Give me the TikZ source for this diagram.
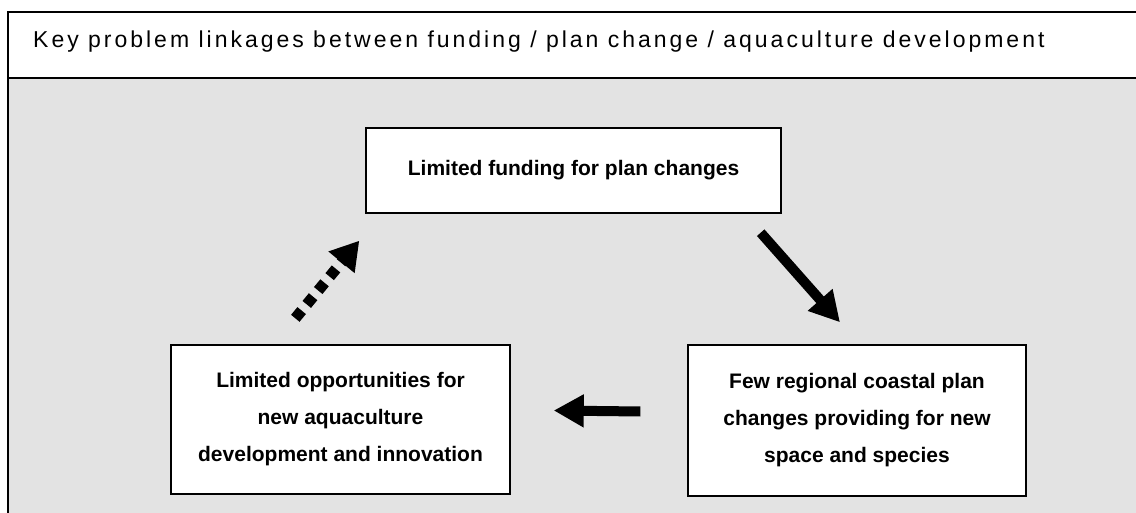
\documentclass[tikz,border=0pt]{standalone}
\usepackage{fontspec}
\setmainfont{Liberation Sans}
\newfontfamily\titlefont[LetterSpace=13]{Liberation Sans}
\usetikzlibrary{arrows.meta}
\definecolor{panel}{gray}{0.89}
\tikzset{
  frameline/.style={line width=1.4pt, black},
  box/.style={draw=black, line width=1.4pt, fill=white, align=center,
    font=\bfseries\fontsize{21}{37}\selectfont, inner sep=0pt},
  bigarrow/.style={line width=10pt, -{Triangle[length=30pt,width=31pt]}},
  dotarrow/.style={line width=11pt, dash pattern=on 10pt off 8pt,
    -{Triangle[length=28pt,width=32pt]}}
}
\begin{document}
\begin{tikzpicture}[x=1pt,y=-1pt]
\useasboundingbox (0,0) rectangle (1136,513);
% stippled panel below the heading
\fill[panel] (8,78) rectangle (1136,513);
% frame and heading rule
\draw[frameline] (1136,12) -- (8,12) -- (8,513);
\draw[frameline] (8,78) -- (1136,78);
\node[anchor=base west, inner sep=0pt, font=\titlefont\fontsize{23}{27}\selectfont] (title) at (33,48)
  {Key problem linkages between funding / plan change / aquaculture development};

% the three problem boxes
\node[box, minimum width=415pt, minimum height=85pt] (fund) at (573.5,170.5)
  {Limited funding for plan changes};
\node[box, minimum width=338pt, minimum height=151pt] (plan) at (857,420.5)
  {Few regional coastal plan\\changes providing for new\\space and species};
\node[box, minimum width=339pt, minimum height=149pt] (opp) at (340.5,419.5)
  {Limited opportunities for\\new aquaculture\\development and innovation};

% arrow ends placed relative to the boxes
\coordinate (a1s) at ([shift={(-21,19)}]fund.south east);
\coordinate (a1e) at ([shift={(-17,-22)}]plan.north);
\coordinate (a2s) at ([shift={(-47,-9)}]plan.west);
\coordinate (a2e) at ([shift={(43,-9)}]opp.east);
\coordinate (a3s) at ([shift={(125,-26)}]opp.north west);
\coordinate (a3e) at ([shift={(-6,27)}]fund.south west);

\draw[bigarrow] (a1s) -- (a1e);
\draw[bigarrow] (a2s) -- (a2e);
\draw[dotarrow] (a3s) -- (a3e);
\end{tikzpicture}
\end{document}
